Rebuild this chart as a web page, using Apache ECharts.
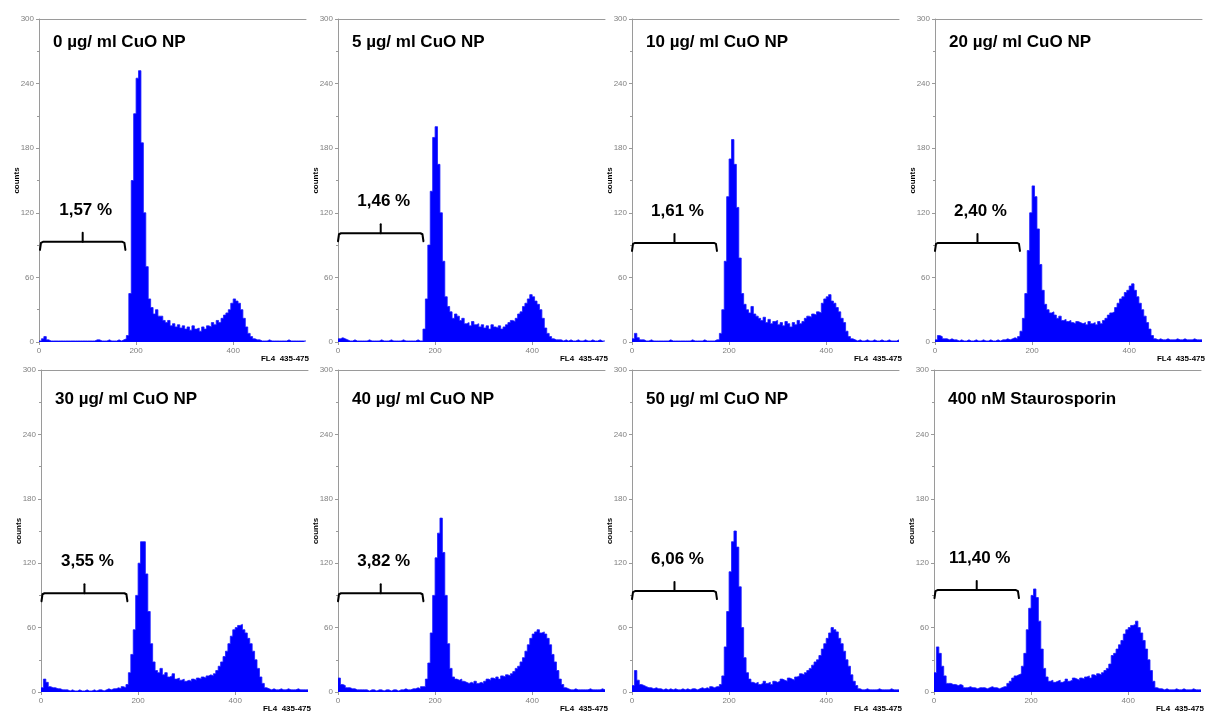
<!DOCTYPE html>
<html>
<head>
<meta charset="utf-8">
<title>Zellzyklus CuO NP</title>
<script src="https://cdn.jsdelivr.net/npm/echarts@6.0.0/dist/echarts.min.js"></script>
<style>
  html, body { margin: 0; padding: 0; background: #fff; }
  #view { width: 1210px; height: 713px; }
</style>
</head>
<body>
<div id="view"></div>
<script>
// panel titles and sub-G1 gate values
var titles = ['0 µg/ ml CuO NP', '5 µg/ ml CuO NP', '10 µg/ ml CuO NP', '20 µg/ ml CuO NP',
              '30 µg/ ml CuO NP', '40 µg/ ml CuO NP', '50 µg/ ml CuO NP', '400 nM Staurosporin'];
var percents = ['1,57 %', '1,46 %', '1,61 %', '2,40 %', '3,55 %', '3,82 %', '6,06 %', '11,40 %'];
var gateLo = [2, 0, 0, 0, 1, 0, 0, 1];
var gateHi = [178, 176, 175, 175, 178, 176, 175, 175];
var gateY = [93, 101, 92, 92, 92, 92, 94, 95];

// axis ticks
var yTicks = [0, 60, 120, 180, 240, 300];
var xTicks = [0, 200, 400];
var xMax = 550;
var binWidth = 5;

// counts per 5-channel bin, channel 0..545
var cuo0 = [1,3,5,2,1,1,1,1,1,1, 1,1,1,1,1,1,1,1,1,1, 1,1,1,2,2,1,1,1,2,1,
  1,1,2,1,2,3,6,45,150,212, 245,252,185,120,70,40,32,26,30,24, 24,20,18,20,15,17,14,16,13,15,
  12,14,11,15,12,13,10,14,12,15, 14,18,16,20,18,22,25,27,30,36, 40,38,36,30,22,14,8,5,3,2,
  2,1,1,1,2,1,1,1,1,1, 1,1,2,1,1,1,1,1,1,1];
var cuo5 = [3,4,3,2,1,1,2,1,1,1, 1,1,2,1,1,1,1,2,1,1, 1,2,1,1,1,1,2,1,1,1,
  1,1,2,1,1,12,40,90,140,190, 200,165,120,75,42,33,28,22,26,24, 20,22,17,18,15,19,16,17,14,16,
  13,15,12,16,14,13,15,12,14,16, 18,20,19,22,26,28,33,36,40,44, 42,38,35,30,22,13,8,5,3,2,
  2,2,1,2,1,2,1,1,2,1, 1,2,1,1,2,1,1,2,1,1];
var cuo10 = [3,8,4,2,2,1,1,2,1,1, 1,1,1,1,1,2,1,1,1,1, 1,1,1,1,2,1,1,1,1,2,
  1,1,1,1,2,2,8,30,75,135, 170,188,165,125,78,45,35,30,27,33, 26,24,22,20,23,18,21,17,19,20,
  16,18,15,19,17,14,18,16,20,17, 19,22,24,23,26,25,28,27,36,40, 42,44,38,36,32,28,22,18,10,5,
  3,2,1,2,1,1,2,1,1,2, 1,1,2,1,1,2,1,1,1,2];
var cuo20 = [2,6,5,3,3,2,3,2,2,1, 2,1,1,2,1,1,2,1,1,2, 1,1,2,1,1,2,1,2,2,3,
  2,3,4,3,5,10,22,45,85,120, 145,135,105,72,48,35,30,27,28,25, 22,24,20,21,19,20,18,17,19,18,
  17,18,16,19,17,18,16,19,17,20, 22,25,27,28,32,36,40,42,46,48, 52,54,48,42,36,30,24,18,12,6,
  3,2,3,2,2,3,2,2,2,3, 2,2,3,2,2,2,3,2,2,2];
var cuo30 = [4,12,9,5,4,4,3,3,2,2, 2,1,2,1,1,2,1,1,2,1, 1,2,1,2,2,1,2,3,2,3,
  3,4,3,5,4,7,18,35,58,90, 120,140,140,110,75,45,28,20,18,22, 16,18,14,15,17,12,13,11,12,10,
  11,10,12,11,13,12,14,13,15,16, 15,17,20,24,28,33,38,45,52,58, 60,62,63,58,55,50,45,38,30,22,
  14,8,4,3,2,3,2,2,3,2, 2,3,2,2,2,3,2,2,2,2];
var cuo40 = [13,7,6,4,4,3,3,2,2,2, 2,2,1,2,2,1,2,2,1,2, 2,1,2,2,1,2,2,3,2,2,
  3,3,4,3,5,5,12,27,55,90, 125,148,162,130,90,45,22,14,12,11, 12,10,9,8,9,8,10,8,9,8,
  10,12,11,13,12,14,12,15,14,16, 15,17,19,22,24,28,32,38,44,50, 54,56,58,55,56,54,50,44,35,28,
  20,12,7,4,3,2,2,3,2,2, 2,2,2,3,2,2,2,2,3,2];
var cuo50 = [6,20,11,7,6,5,4,4,3,4, 3,3,2,3,2,3,2,3,2,2, 3,2,3,2,3,3,2,3,4,3,
  4,3,5,4,5,5,7,15,42,75, 112,140,150,135,98,60,32,18,12,9, 8,9,7,8,10,8,9,7,10,9,
  10,12,11,10,13,12,11,14,15,17, 16,18,20,22,25,28,30,34,40,45, 50,55,60,58,56,50,45,38,30,24,
  16,10,6,3,2,2,3,2,2,2, 2,3,2,2,2,2,3,2,2,2];
var stauro = [18,42,36,24,15,8,8,7,7,6, 7,6,4,4,5,4,4,3,4,4, 4,3,4,5,4,4,3,4,5,5,
  8,10,13,15,16,17,24,36,58,78, 90,96,88,66,40,22,14,10,11,9, 10,11,9,10,12,10,11,13,12,11,
  13,12,14,15,13,16,15,17,16,18, 20,22,26,34,36,40,44,48,54,58, 60,62,63,66,60,55,48,40,30,20,
  10,4,3,3,2,3,2,2,2,3, 2,2,3,2,2,2,3,2,2,2];

var hists = [cuo0, cuo5, cuo10, cuo20, cuo30, cuo40, cuo50, stauro];

// layout of the 2 x 4 panels
var colLeft = [[39, 338, 632, 935], [41, 338, 632, 934]];
var rowTop = [19, 370];
var rowHeight = [323, 322];
var panelWidth = 267;

var view = echarts.init(document.getElementById('view'));
var axisGray = '#9a9a9a';
var font = 'Arial, "Liberation Sans", sans-serif';

var grid = [], xAxis = [], yAxis = [], series = [], title = [];

function gateRenderer(i) {
    return function (params, api) {
        var a = api.coord([api.value(0), api.value(2)]);
        var b = api.coord([api.value(1), api.value(2)]);
        var m = (a[0] + b[0]) / 2;
        var pen = { stroke: '#000', lineWidth: 2, fill: null, lineJoin: 'round', lineCap: 'round' };
        return {
            type: 'group',
            children: [
                { type: 'polyline', shape: { points: [[a[0], a[1] + 8], [a[0] + 1, a[1] + 1], [a[0] + 3, a[1]],
                    [b[0] - 3, b[1]], [b[0] - 1, b[1] + 1], [b[0], b[1] + 8]] }, style: pen },
                { type: 'line', shape: { x1: m, y1: a[1], x2: m, y2: a[1] - 9 }, style: pen },
                { type: 'text', x: m + 3, y: a[1] - 32, style: { text: percents[i], fill: '#000',
                    font: 'bold 17px ' + font, align: 'center', verticalAlign: 'middle' } }
            ]
        };
    };
}

for (var i = 0; i < 8; i++) {
    var r = Math.floor(i / 4), c = i % 4;
    grid.push({ left: colLeft[r][c], top: rowTop[r], width: panelWidth, height: rowHeight[r], containLabel: false });
    title.push({ text: titles[i], left: colLeft[r][c] + 14, top: r === 0 ? 34 : 391, padding: 0,
        textStyle: { fontSize: 17, fontWeight: 'bold', color: '#000', fontFamily: font } });

    // bottom axis (channel) and a top border line
    xAxis.push({
        gridIndex: i, type: 'value', min: 0, max: xMax, position: 'bottom',
        name: 'FL4  435-475', nameLocation: 'end', nameGap: 3, nameMoveOverlap: false,
        nameTextStyle: { fontSize: 8, fontWeight: 'bold', color: '#000', fontFamily: font,
            align: 'right', verticalAlign: 'top', padding: [13, 0, 0, 0] },
        axisLine: { show: false },
        axisTick: { show: true, customValues: xTicks, length: 3, lineStyle: { color: axisGray } },
        axisLabel: { customValues: xTicks, fontSize: 8, color: '#808080', margin: 5, fontFamily: font },
        splitLine: { show: false }
    });
    xAxis.push({
        gridIndex: i, type: 'value', min: 0, max: xMax, position: 'top',
        axisLine: { show: true, lineStyle: { color: axisGray, width: 1 } },
        axisTick: { show: false }, axisLabel: { show: false }, splitLine: { show: false }
    });
    yAxis.push({
        gridIndex: i, type: 'value', min: yTicks[0], max: yTicks[yTicks.length - 1], interval: yTicks[1] - yTicks[0],
        name: 'counts', nameLocation: 'middle', nameGap: 18, nameRotate: 90, nameMoveOverlap: false,
        nameTextStyle: { fontSize: 8, fontWeight: 'bold', color: '#000', fontFamily: font },
        axisLine: { show: true, lineStyle: { color: axisGray, width: 1 } },
        axisTick: { show: true, length: 3, lineStyle: { color: axisGray } },
        minorTick: { show: true, splitNumber: 2, length: 2, lineStyle: { color: axisGray } },
        axisLabel: { fontSize: 8, color: '#808080', margin: 5, fontFamily: font },
        splitLine: { show: false }
    });

    var pts = hists[i].map(function (v, k) { return [k * binWidth, v]; });
    pts.push([hists[i].length * binWidth, hists[i][hists[i].length - 1]]);
    series.push({
        type: 'line', xAxisIndex: 2 * i, yAxisIndex: i, data: pts, step: 'end',
        symbol: 'none', silent: true,
        lineStyle: { color: '#1a1aff', width: 0.8 },
        areaStyle: { color: '#0000ff', opacity: 1 }
    });
    series.push({
        type: 'custom', xAxisIndex: 2 * i, yAxisIndex: i, silent: true, clip: false,
        data: [[gateLo[i], gateHi[i], gateY[i]]],
        renderItem: gateRenderer(i)
    });
}

view.setOption({
    animation: false,
    backgroundColor: '#fff',
    title: title,
    grid: grid,
    xAxis: xAxis,
    yAxis: yAxis,
    series: series
});
</script>
</body>
</html>
